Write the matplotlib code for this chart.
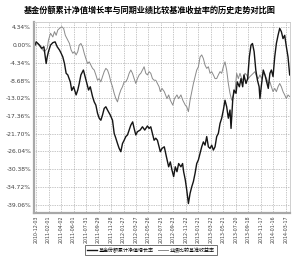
import numpy as np
import pandas as pd
import matplotlib
matplotlib.use("Agg")
import matplotlib.pyplot as plt

plt.rcParams['font.family'] = ['Noto Sans CJK SC', 'DejaVu Sans']

title = "基金份额累计净值增长率与同期业绩比较基准收益率的历史走势对比图"
fund_name = "基金份额累计净值增长率"
bench_name = "业绩比较基准收益率"

start = pd.Timestamp("2010-12-03")

# days after start, value in %
fund_days = [-6, 0, 16, 27, 37, 48, 53, 59, 69, 80, 91, 101, 112, 120, 128, 136, 144, 152, 164, 171,
             180, 192, 200, 207, 215, 227, 235, 244, 252, 260, 271, 279, 287, 295, 303, 311, 319, 327,
             335, 343, 356, 367, 375, 383, 391, 399, 407, 415, 423, 431, 439, 447, 455, 464, 471, 479,
             487, 500, 511, 522, 535, 543, 551, 559, 567, 575, 583, 591,
             597, 605, 616, 626, 637, 645, 653, 661, 669, 677, 685, 696, 704, 709, 717, 724, 732, 740,
             748, 756, 764, 772, 780, 788, 796, 804, 812, 820, 828, 836, 844, 852, 860, 868, 876, 884,
             892, 900, 908, 916, 924, 932, 937, 945, 951, 961, 967, 977, 985, 993, 999, 1009, 1017,
             1025, 1033, 1040, 1048, 1056, 1064, 1072, 1076, 1084, 1092, 1100, 1108, 1116, 1124, 1131,
             1139, 1147, 1155, 1163, 1171, 1179, 1187, 1195, 1203, 1211, 1219]
fund_vals = [0.0, 0.8, 0.0, -0.8, -0.4, -4.5, -2.9, -1.6, 0.0, 0.6, 0.8, -0.4, -1.2, -2.0, -2.9, -4.5,
             -6.9, -7.3, -9.0, -11.1, -10.2, -12.2, -11.0, -9.4, -7.3, -6.1, -7.7, -9.4, -11.0, -10.2,
             -12.6, -13.9, -14.7, -16.7, -17.9, -18.4, -17.1, -15.5, -15.1, -15.9, -17.1, -18.4, -21.6,
             -22.8, -24.1, -25.3, -26.1, -24.1, -23.3, -22.4, -22.0, -20.8, -19.6, -18.8, -20.4, -22.0,
             -21.2, -20.8, -20.0, -20.8, -19.8, -20.4, -20.0, -21.6, -23.3, -22.8, -23.3, -24.9,
             -26.1, -25.3, -24.9, -27.3, -29.8, -28.6, -30.6, -32.2, -29.8, -31.0, -29.0, -29.8, -29.0,
             -31.0, -33.0, -35.5, -38.8, -36.3, -34.7, -33.4, -31.4, -29.0, -28.1, -26.5, -24.9, -23.7,
             -24.5, -22.4, -24.9, -25.3, -24.5, -25.7, -24.9, -22.4, -21.6, -19.2, -17.9, -15.9, -13.5,
             -15.1, -17.9, -15.9, -20.4, -13.5, -11.0, -11.8, -9.0, -10.2, -8.2, -10.2, -7.3, -9.4, -8.2,
             -2.9, 0.0, 0.4, -1.6, -6.1, -8.6, -10.2, -13.1, -9.4, -6.1, -7.3, -9.0, -10.6, -6.9, -6.1,
             -7.7, -2.9, 0.4, 2.4, 4.1, 3.3, 1.6, 2.4, -0.4, -2.9, -7.3]

bench_days = [-6, 8, 24, 40, 53, 59, 69, 80, 88, 96, 104, 112, 123, 132, 140, 152, 160, 168, 176, 184,
              192, 200, 207, 215, 223, 231, 239, 247, 255, 263, 271, 279, 287, 295, 303, 311, 319, 327,
              335, 343, 351, 359, 367, 375, 383, 391, 399, 407, 415, 423, 431, 439, 447, 455, 463, 471,
              479, 487, 495, 503, 511, 519, 527, 535, 543, 551, 559, 567, 575, 583, 591,
              597, 605, 616, 629, 637, 645, 657, 665, 677, 685, 696, 705, 717, 724, 732, 740, 748, 756,
              764, 772, 780, 788, 796, 804, 812, 820, 828, 836, 844, 852, 860, 868, 876, 884, 892, 900,
              908, 916, 924, 932, 940, 948, 956, 964, 972, 980, 988, 996, 1004, 1012, 1020, 1028, 1036,
              1044, 1052, 1060, 1068, 1076, 1084, 1092, 1100, 1108, 1116, 1124, 1131, 1139, 1147, 1155,
              1163, 1171, 1179, 1187, 1195, 1203, 1211, 1219]
bench_vals = [0.0, 0.4, -0.8, -1.6, -0.8, 1.2, 2.9, 2.0, 3.3, 2.4, 3.7, 4.1, 4.5, 4.1, 2.4, 1.2, 0.4,
              -1.2, -2.0, -1.6, -2.4, -1.6, 0.0, 0.4, -0.4, -2.0, -3.3, -4.5, -4.1, -4.9, -5.7, -6.1,
              -7.3, -8.6, -8.2, -9.0, -7.7, -6.5, -5.7, -6.1, -7.3, -9.0, -10.2, -11.8, -13.1, -13.9,
              -12.2, -11.0, -10.2, -9.0, -9.0, -8.2, -6.9, -6.1, -6.9, -8.2, -9.4, -8.2, -7.3, -6.9,
              -6.1, -5.3, -6.9, -7.3, -6.5, -6.9, -8.2, -8.6, -8.6, -9.4, -10.2,
              -11.4, -10.6, -11.4, -13.1, -12.2, -13.5, -14.7, -13.1, -12.2, -13.1, -12.2, -13.5, -14.7,
              -15.1, -16.3, -13.5, -11.4, -9.4, -7.7, -6.1, -5.3, -2.9, -2.4, -3.3, -4.9, -5.7, -5.3,
              -6.9, -6.5, -7.3, -8.2, -8.2, -7.3, -6.5, -6.9, -5.3, -4.1, -6.1, -9.4, -11.8, -13.5,
              -12.2, -11.4, -6.9, -8.2, -6.9, -8.2, -8.6, -6.9, -7.3, -8.2, -7.7, -7.3, -6.9, -6.5, -7.7,
              -8.2, -7.3, -8.2, -6.9, -7.3, -8.2, -9.4, -9.0, -10.2, -11.4, -10.6, -11.4, -10.2, -9.4,
              -10.2, -11.4, -12.2, -13.1, -12.2, -12.6]

y_ticks = [4.34, 0.00, -4.34, -8.68, -13.02, -17.36, -21.70, -26.04, -30.38, -34.72, -39.06]
x_labels = ["2010-12-03", "2011-02-01", "2011-04-02", "2011-06-01", "2011-07-31", "2011-09-29",
            "2011-11-28", "2012-01-27", "2012-03-27", "2012-05-26", "2012-07-25", "2012-09-23",
            "2012-11-22", "2013-01-21", "2013-03-22", "2013-05-21", "2013-07-20", "2013-09-18",
            "2013-11-17", "2014-01-16", "2014-03-17"]

fund_x = start + pd.to_timedelta(fund_days, unit="D")
bench_x = start + pd.to_timedelta(bench_days, unit="D")
xt = pd.to_datetime(x_labels)

fig = plt.figure(figsize=(3.0, 2.6), dpi=100)
ax = fig.add_axes([0.113, 0.181, 0.854, 0.735])

l2, = ax.plot(bench_x, bench_vals, color="#8a8a8a", lw=0.7)
l1, = ax.plot(fund_x, fund_vals, color="#151515", lw=1.0)

ax.set_xlim(start - pd.Timedelta(days=11), start + pd.Timedelta(days=1221))
ax.set_ylim(-41.1, 5.7)
ax.set_yticks(y_ticks)
ax.set_yticklabels([f"{v:.2f}%" for v in y_ticks], fontsize=4.3, color="#404040",
                   family=["DejaVu Sans"])
ax.set_xticks(xt)
ax.set_xticklabels(x_labels, rotation=90, fontsize=3.4, color="#404040", family=["DejaVu Sans"])
ax.tick_params(length=0, pad=2)
ax.grid(True, color="#909090", lw=0.5, linestyle=(0, (1, 1.5)))

for s in ["top", "right"]:
    ax.spines[s].set_color("#c8c8c8")
    ax.spines[s].set_linewidth(0.6)
for s in ["left", "bottom"]:
    ax.spines[s].set_color("#a8a8a8")
    ax.spines[s].set_linewidth(1.6)

fig.text(0.5, 0.962, title, ha="center", va="center", fontsize=5.9, fontweight="bold")

leg = fig.legend([l1, l2], [fund_name, bench_name], loc="center", bbox_to_anchor=(0.503, 0.038),
                 ncol=2, fontsize=3.6, frameon=True, fancybox=False, handlelength=2.0,
                 handletextpad=0.4, columnspacing=0.8, borderpad=0.4)
leg.get_frame().set_edgecolor("#333333")
leg.get_frame().set_linewidth(0.6)

fig.savefig("out.png", dpi=100)
